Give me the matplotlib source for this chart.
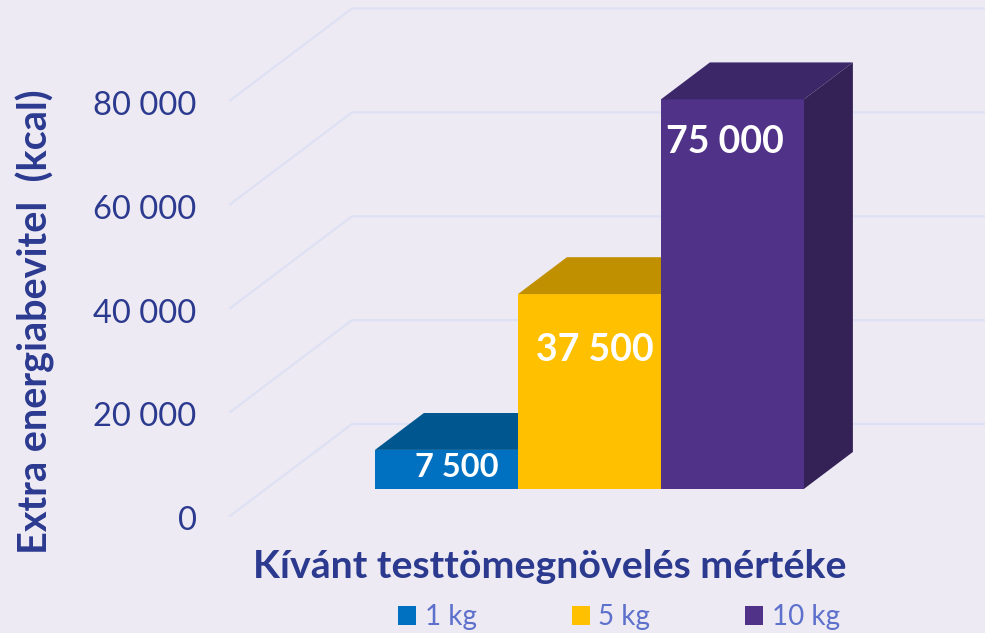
import matplotlib
matplotlib.use('Agg')
import matplotlib.pyplot as plt
from matplotlib.patches import Patch

# adatok
categories = ['1 kg', '5 kg', '10 kg']
values = [7500, 37500, 75000]
value_labels = ['7 500', '37 500', '75 000']
y_ticks = [0, 20000, 40000, 60000, 80000]
y_tick_labels = ['0', '20 000', '40 000', '60 000', '80 000']

bg = '#EDEAF4'
grid_col = '#DEE1F3'
dark_text = '#2B3A8F'
legend_text = '#5C70CC'
front_cols = ['#0070C0', '#FFC000', '#503288']
top_cols = ['#005790', '#C09000', '#3C2869']
side_col = '#342257'

# hamis 3D: a melyseg 0..1 kozott, ennyit tolja el a pontot
depth_x = 0.853
depth_y = 17713
bar_d0 = 0.295
bar_d1 = 0.696
wall_left = -0.762


def shift(x, v, d):
    return x + d * depth_x, v + d * depth_y


fig = plt.figure(figsize=(9.85, 6.33), dpi=100, facecolor=bg)
plt.rcParams['font.family'] = ['Lato', 'DejaVu Sans']
ax = fig.add_axes([0, 0, 1, 1])
ax.set_xlim(-339 / 143, 646 / 143)
ax.set_ylim(-22526, 99345)
ax.axis('off')

# racsvonalak: atlos resz a bal falon, vizszintes a hatso falon
for t in y_ticks:
    x0, y0 = shift(wall_left, t, 0)
    x1, y1 = shift(wall_left, t, 1)
    ax.plot([x0, x1, 5], [y0, y1, y1], color=grid_col, lw=1.6, zorder=1, clip_on=True)

for t, lab in zip(y_ticks, y_tick_labels):
    ax.text(-0.995, t - 1030, lab, ha='right', va='center', fontsize=23.5, color=dark_text)

# oszlopok
for i, v in enumerate(values):
    fx, fy = shift(i, 0, bar_d0)
    ax.bar(fx, v, width=1, bottom=fy, align='edge', color=front_cols[i], lw=0, zorder=3 + i)
    pts = [shift(i, v, bar_d0), shift(i, v, bar_d1), shift(i + 1, v, bar_d1), shift(i + 1, v, bar_d0)]
    ax.fill([p[0] for p in pts], [p[1] for p in pts], color=top_cols[i], lw=0, zorder=3 + i)
    # oldallap csak az utolsonal latszik
    if i == len(values) - 1:
        pts = [shift(i + 1, 0, bar_d0), shift(i + 1, 0, bar_d1), shift(i + 1, v, bar_d1), shift(i + 1, v, bar_d0)]
        ax.fill([p[0] for p in pts], [p[1] for p in pts], color=side_col, lw=0, zorder=3 + i)

# ertekfeliratok
label_pos = [(0.57, 4200), (1.537, 26720), (2.446, 66770)]
label_sizes = [23.5, 27, 27]
for (lx, ly), lab, fs in zip(label_pos, value_labels, label_sizes):
    x, y = shift(lx, ly, bar_d0)
    ax.text(x, y, lab, ha='center', va='center', fontsize=fs, fontweight='bold', color='white', zorder=10)

fig.text(35 / 985, 1 - 322 / 633, 'Extra energiabevitel  (kcal)', rotation=90, ha='center', va='center',
         fontsize=28.5, fontweight='bold', color=dark_text)
fig.text(550 / 985, 1 - 567 / 633, 'Kívánt testtömegnövelés mértéke', ha='center', va='center',
         fontsize=28.3, fontweight='bold', color=dark_text)

handles = [Patch(facecolor=c, lw=0) for c in front_cols]
fig.legend(handles, categories, ncol=3, frameon=False, loc='center', bbox_to_anchor=(619 / 985, 1 - 617 / 633),
           fontsize=20, labelcolor=legend_text, handlelength=0.65, handleheight=0.65, handletextpad=0.32,
           columnspacing=3.4, borderpad=0, borderaxespad=0)

fig.savefig('out.png', dpi=100, facecolor=bg)
